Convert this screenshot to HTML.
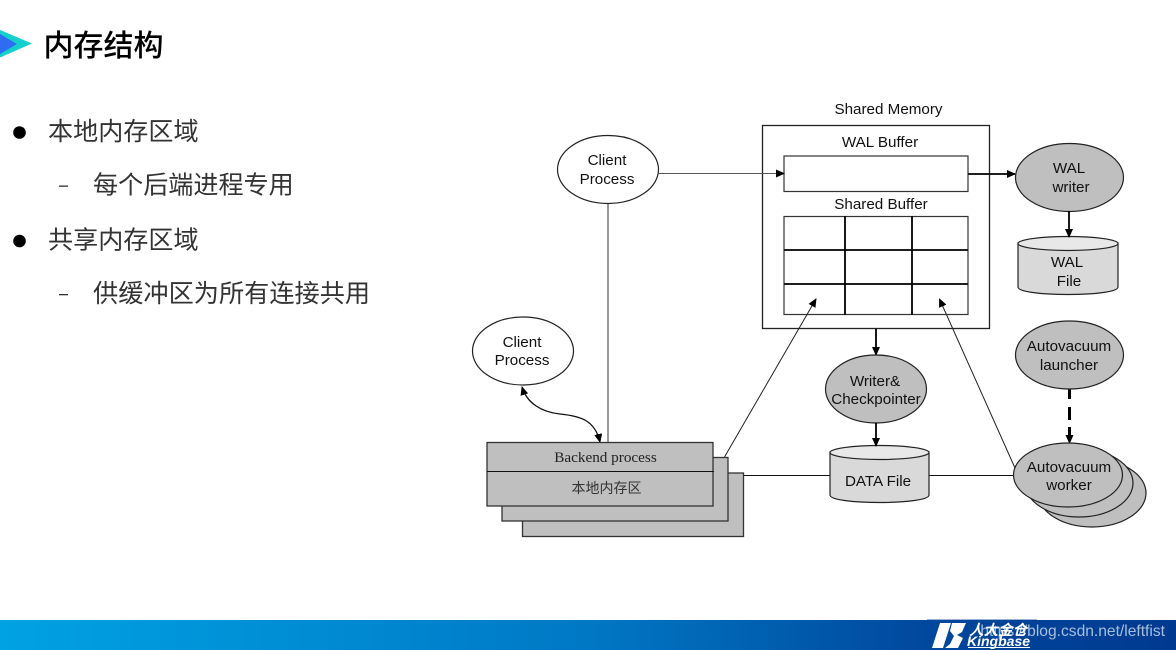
<!DOCTYPE html>
<html><head><meta charset="utf-8">
<style>
html,body{margin:0;padding:0;background:#fff}
body{width:1176px;height:650px;overflow:hidden;position:relative}
svg{position:absolute;left:0;top:0}
.a{font-family:"Liberation Sans",sans-serif;font-size:15.2px;fill:#111;text-anchor:middle}
.c{font-family:"Liberation Sans","Noto Sans CJK SC",sans-serif;fill:#333}
</style></head><body>
<svg width="1176" height="650" viewBox="0 0 1176 650" xmlns="http://www.w3.org/2000/svg">
<defs>
<linearGradient id="bar" x1="0" x2="1" y1="0" y2="0"><stop offset="0" stop-color="#00a2e4"/><stop offset=".5" stop-color="#0078c4"/><stop offset=".8" stop-color="#00469c"/><stop offset="1" stop-color="#003a90"/></linearGradient>
<marker id="m" markerWidth="9" markerHeight="8" refX="8" refY="4" orient="auto-start-reverse" markerUnits="userSpaceOnUse"><path d="M0 0L9 4L0 8Z" fill="#000"/></marker>
</defs>
<rect width="1176" height="650" fill="#fff"/>
<path d="M0 30L32 43.500L0 57.500Z" fill="#14d0cc"/><path d="M0 34L17 44L0 54Z" fill="#2f6cf0"/>
<text class="c" x="43.500" y="56" font-size="30" font-weight="500" style="fill:#000">内存结构</text>
<circle cx="19.500" cy="132.500" r="6.300" fill="#000"/><circle cx="19.500" cy="241" r="6.300" fill="#000"/>
<rect x="59" y="185.500" width="9" height="1.300" fill="#333"/><rect x="59" y="294" width="9" height="1.300" fill="#333"/>
<text class="c" x="48" y="140" font-size="25.100">本地内存区域</text>
<text class="c" x="93" y="193.500" font-size="25.100">每个后端进程专用</text>
<text class="c" x="48" y="248.500" font-size="25.100">共享内存区域</text>
<text class="c" x="93" y="302" font-size="25.200">供缓冲区为所有连接共用</text>
<g fill="none" stroke="#222" stroke-width="1">
<line x1="608" y1="203" x2="608" y2="443" stroke="#777" stroke-width="1.500"/>
<line x1="743" y1="475.500" x2="831" y2="475.500" stroke="#111"/>
<line x1="929" y1="475.500" x2="1015" y2="475.500" stroke="#111"/>
<path d="M522 387C527 403 541 412 560 414C580 416 595 420 600 442" stroke="#111" stroke-width="1.300" marker-start="url(#m)" marker-end="url(#m)"/>
</g>
<g fill="#bfbfbf" stroke="#333" stroke-width="1.300">
<rect x="522.500" y="473" width="221" height="63.500"/>
<rect x="502" y="457.500" width="226" height="63.500"/>
<rect x="487" y="442.500" width="226" height="63.500"/>
</g>
<line x1="487" y1="471.500" x2="714" y2="471.500" stroke="#111" stroke-width="1"/>
<text x="605.500" y="462" font-family="Liberation Serif,serif" font-size="15.200" fill="#222" text-anchor="middle">Backend process</text>
<text class="c" x="606.500" y="493" font-size="14" text-anchor="middle">本地内存区</text>
<ellipse cx="608" cy="169.500" rx="50.500" ry="34" fill="#fff" stroke="#222" stroke-width="1.200"/>
<text class="a" x="607" y="165">Client</text><text class="a" x="607" y="184">Process</text>
<ellipse cx="523" cy="351" rx="50.500" ry="34" fill="#fff" stroke="#222" stroke-width="1.200"/>
<text class="a" x="522" y="347">Client</text><text class="a" x="522" y="365">Process</text>
<text class="a" x="888.500" y="114">Shared Memory</text>
<rect x="762.500" y="125.500" width="227" height="203" fill="#fff" stroke="#222" stroke-width="1.300"/>
<text class="a" x="880" y="147">WAL Buffer</text>
<rect x="784" y="156" width="184" height="35.500" fill="#fff" stroke="#333" stroke-width="1.200"/>
<line x1="658" y1="173.500" x2="784" y2="173.500" stroke="#555" marker-end="url(#m)"/>
<text class="a" x="881" y="209">Shared Buffer</text>
<rect x="784" y="216.500" width="184" height="98" fill="#fff" stroke="#333" stroke-width="1.200"/>
<g stroke="#000" stroke-width="1.800">
<line x1="845" y1="216" x2="845" y2="315"/><line x1="912" y1="216" x2="912" y2="315"/>
<line x1="784" y1="250" x2="968" y2="250"/><line x1="784" y1="284" x2="968" y2="284"/>
</g>
<line x1="724.500" y1="457" x2="816" y2="299" stroke="#222" marker-end="url(#m)"/>
<line x1="1015" y1="468" x2="939.500" y2="299" stroke="#222" marker-end="url(#m)"/>
<g stroke="#000" stroke-width="1.800" fill="none">
<line x1="968" y1="174" x2="1015" y2="174" marker-end="url(#m)"/>
<line x1="876" y1="329" x2="876" y2="355" marker-end="url(#m)"/>
<line x1="1069.500" y1="389" x2="1069.500" y2="443" stroke-width="3" stroke-dasharray="10 8 13 7 10" marker-end="url(#m)"/>
</g>
<g fill="#bfbfbf" stroke="#222" stroke-width="1.200">
<ellipse cx="1069.500" cy="177.500" rx="54" ry="34"/>
<ellipse cx="876" cy="389" rx="50.500" ry="34"/>
<ellipse cx="1069.500" cy="355" rx="54" ry="34"/>
<ellipse cx="1092" cy="493" rx="54" ry="34"/>
<ellipse cx="1079" cy="483" rx="54" ry="34"/>
<ellipse cx="1068" cy="475" rx="54.500" ry="32"/>
</g>
<text class="a" x="1069" y="173">WAL</text><text class="a" x="1071" y="192">writer</text>
<text class="a" x="875" y="386">Writer&amp;</text><text class="a" x="876" y="404">Checkpointer</text>
<text class="a" x="1069" y="351">Autovacuum</text><text class="a" x="1069" y="370">launcher</text>
<text class="a" x="1069" y="472">Autovacuum</text><text class="a" x="1069" y="490">worker</text>
<g stroke="#222" stroke-width="1.200">
<path d="M1018 243V287C1018 297 1118 297 1118 287V243Z" fill="#d9d9d9"/>
<ellipse cx="1068" cy="243.500" rx="50" ry="7" fill="#e8e8e8"/>
<path d="M830 452V495C830 505 929 505 929 495V452Z" fill="#d9d9d9"/>
<ellipse cx="879.500" cy="452.500" rx="49.500" ry="7" fill="#e8e8e8"/>
</g>
<line x1="1069" y1="211" x2="1069" y2="237" stroke="#000" stroke-width="1.800" marker-end="url(#m)"/>
<line x1="876" y1="423" x2="876" y2="446" stroke="#000" stroke-width="1.800" marker-end="url(#m)"/>
<text class="a" x="1067" y="267">WAL</text><text class="a" x="1069" y="286">File</text>
<text class="a" x="878" y="486">DATA File</text>
<rect x="0" y="620" width="1176" height="30" fill="url(#bar)"/>
<rect x="927" y="619" width="110" height="1" fill="#9db4d8"/>
<text x="1165" y="636" font-family="Liberation Sans,sans-serif" font-size="15.600" fill="#a9bede" text-anchor="end">https://blog.csdn.net/leftfist</text>
<path d="M940 623H951L943 648H932Z" fill="#fff"/>
<path d="M952 623H966L962 632L957 635L963 638L958 648H945L950 644L954 636L950 631Z" fill="#fff"/>
<text x="969" y="635" font-family="Liberation Sans,Noto Sans CJK SC,sans-serif" font-size="14.500" font-weight="700" font-style="italic" fill="#fff">人大金仓</text>
<text x="967" y="646" font-family="Liberation Sans,sans-serif" font-size="14" font-weight="700" font-style="italic" fill="#fff">Kingbase</text>
<rect x="968" y="647" width="62" height="1" fill="#fff"/>
</svg>
</body></html>
